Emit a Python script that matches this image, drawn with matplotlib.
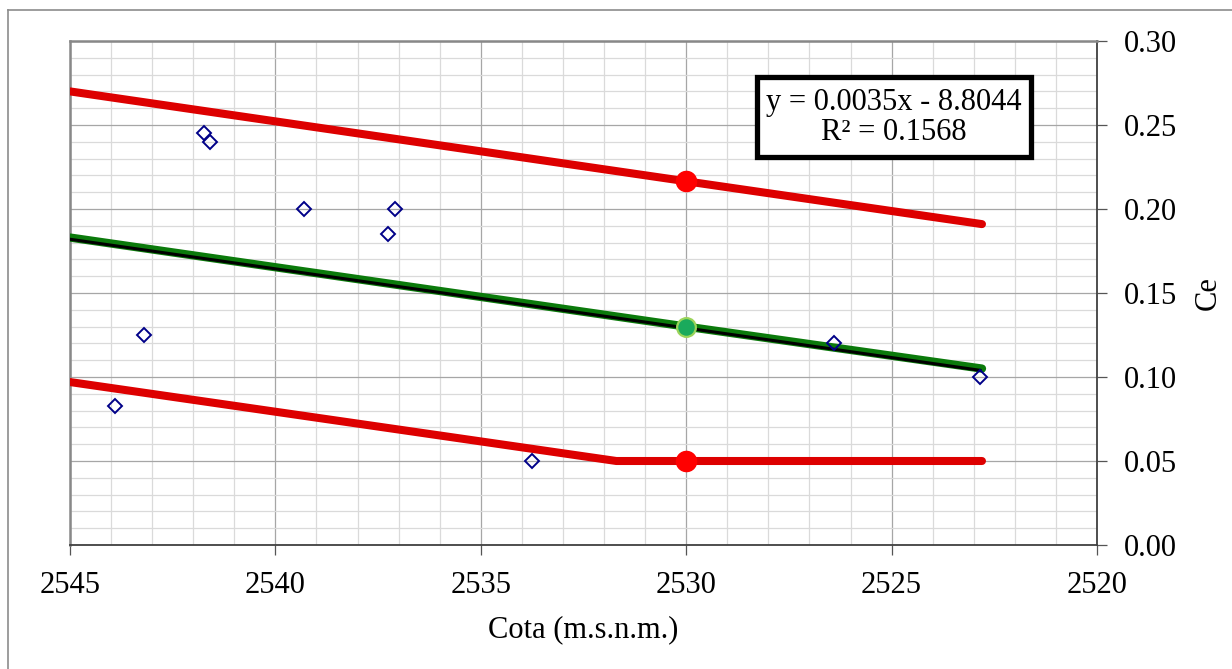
import matplotlib
matplotlib.use("Agg")
import matplotlib.pyplot as plt
from matplotlib.lines import Line2D
from matplotlib.patches import Rectangle
from matplotlib.ticker import MultipleLocator

plt.rcParams["font.family"] = ["Liberation Serif", "DejaVu Serif"]

# measured points (Cota vs Ce)
cota = [2543.9, 2543.2, 2541.75, 2541.6, 2539.3, 2537.25, 2537.1, 2533.75, 2526.4, 2522.85]
ce = [0.083, 0.125, 0.245, 0.240, 0.200, 0.185, 0.200, 0.050, 0.120, 0.100]

# mean curve (green) and its envelope (red)
mean_x = [2545.0, 2530.0, 2522.8]
mean_y = [0.183, 0.130, 0.105]
upper_x = [2545.0, 2530.0, 2522.8]
upper_y = [0.270, 0.2165, 0.191]
lower_x = [2545.0, 2531.7, 2530.0, 2522.8]
lower_y = [0.097, 0.050, 0.050, 0.050]

# linear trend line of the points
trend_x = [2545.0, 2522.85]
trend_y = [0.182, 0.104]
trend_label = "y = 0.0035x - 8.8044\nR\u00b2 = 0.1568"

# highlighted values at 2530
mark_x = 2530.0
mark_upper = 0.2165
mark_mean = 0.130
mark_lower = 0.050

fig = plt.figure(figsize=(12.32, 6.69), dpi=100)
ax = fig.add_axes([70 / 1232, 124 / 669, 1027 / 1232, 504 / 669])

red = "#DD0000"
ax.plot(upper_x, upper_y, color=red, lw=5.8, solid_capstyle="round", zorder=3)
ax.plot(lower_x, lower_y, color=red, lw=5.8, solid_capstyle="round", zorder=3)
ax.plot(mean_x, mean_y, color="#0B7A0B", lw=6.0, solid_capstyle="round", zorder=3)
ax.plot(trend_x, trend_y, color="black", lw=2.2, zorder=4)

ax.plot([mark_x, mark_x], [mark_upper, mark_lower], ls="none", marker="o",
        ms=14.5, color="#FF0000", mec="#FF0000", zorder=5)
ax.plot([mark_x], [mark_mean], ls="none", marker="o", ms=13.5,
        mfc="#1AAA5C", mec="#9BD45A", mew=1.6, zorder=5)

ax.plot(cota, ce, ls="none", marker="D", ms=7.5, mfc="none", mec="#000088",
        mew=1.4, zorder=6)

ax.set_xlim(2545, 2520)
ax.set_ylim(0, 0.30)
ax.xaxis.set_major_locator(MultipleLocator(5))
ax.xaxis.set_minor_locator(MultipleLocator(1))
ax.yaxis.set_major_locator(MultipleLocator(0.05))
ax.yaxis.set_minor_locator(MultipleLocator(0.01))
ax.yaxis.set_major_formatter(plt.FormatStrFormatter("%.2f"))
ax.yaxis.tick_right()
ax.yaxis.set_label_position("right")

ax.grid(True, which="major", color="#A6A6A6", lw=0.9, zorder=0)
ax.grid(True, which="minor", color="#DADADA", lw=0.9, zorder=0)
ax.set_axisbelow(True)

ax.tick_params(which="major", direction="out", length=7, width=0.9,
               color="#555555", labelsize=22)
ax.tick_params(which="minor", length=0)
ax.tick_params(axis="x", pad=12)
ax.tick_params(axis="y", pad=12)

for s in ["left", "top"]:
    ax.spines[s].set_color("#888888")
    ax.spines[s].set_linewidth(1.8)
for s in ["right", "bottom"]:
    ax.spines[s].set_color("#404040")
    ax.spines[s].set_linewidth(1.3)

ax.set_xlabel("Cota (m.s.n.m.)", fontsize=22, labelpad=11)
ax.set_ylabel("Ce", fontsize=22, labelpad=12)

# equation box
ax.add_patch(Rectangle((0.669, 0.770), 0.2668, 0.1587, transform=ax.transAxes,
                       facecolor="white", edgecolor="black", lw=3.8, zorder=7))
ax.text(0.802, 0.849, trend_label, transform=ax.transAxes, ha="center",
        va="center", fontsize=22, linespacing=1.05, zorder=8)

# chart area border (top and left visible)
fig.add_artist(Line2D([8 / 1232, 8 / 1232], [0, 1 - 10 / 669],
                      transform=fig.transFigure, color="#8C8C8C", lw=1.2))
fig.add_artist(Line2D([8 / 1232, 1], [1 - 10 / 669, 1 - 10 / 669],
                      transform=fig.transFigure, color="#8C8C8C", lw=1.2))

fig.savefig("out.png", dpi=100)
plt.close(fig)
